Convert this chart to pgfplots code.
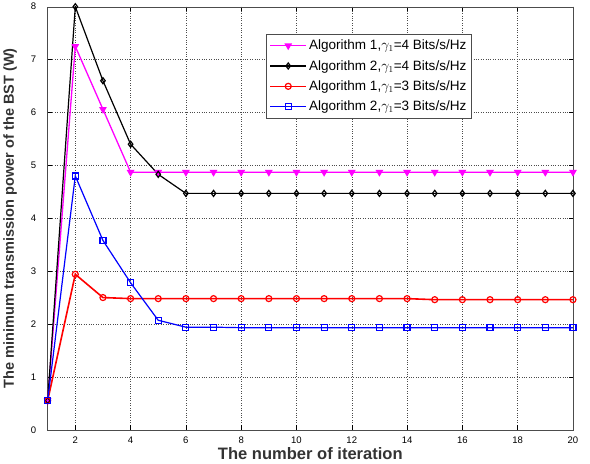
\documentclass[border=0pt]{standalone}
\usepackage{pgfplots}
\pgfplotsset{compat=1.18}
\usepackage{fontspec}
\setmainfont{Liberation Sans}
\definecolor{mag}{RGB}{255,0,255}
\begin{document}
\begin{tikzpicture}
\begin{axis}[scale only axis, width=524pt, height=422pt,
  xmin=1, xmax=20, ymin=0, ymax=8,
  xtick={2,4,...,20}, ytick={0,1,...,8},
  tick align=inside, tick style={black, thin},
  grid=major, major grid style={dotted, black!70},
  xlabel={\bfseries The number of iteration},
  ylabel={\bfseries The minimum transmission power of the BST (W)},
  label style={text=black!80},
  xlabel style={font=\fontsize{16.5}{18}\selectfont, yshift=3pt},
  ylabel style={font=\fontsize{14.5}{16}\selectfont, yshift=7pt},
  ticklabel style={font=\fontsize{9.5}{10}\selectfont},
  /pgf/number format/assume math mode=true,
  xticklabel style={yshift=-4pt}, yticklabel style={xshift=-8pt},
  legend image code/.code={\draw[mark repeat=2, mark phase=2]
    plot coordinates {(0pt,0pt)(18pt,0pt)(36pt,0pt)};},
  legend style={at={(0.416,0.936)}, anchor=north west, draw=black!70,
    font=\fontsize{13.5}{16}\selectfont, row sep=5pt, inner xsep=3pt, inner ysep=4pt},
  legend cell align=left, axis line style={black!70}]
\addplot[mag, line width=1.3pt, mark=triangle*, mark options={rotate=180, scale=1.6}] coordinates {
(1,0.55)(2,7.25)(3,6.06)(4,4.87)(5,4.87)(6,4.87)(7,4.87)(8,4.87)(9,4.87)(10,4.87)
(11,4.87)(12,4.87)(13,4.87)(14,4.87)(15,4.87)(16,4.87)(17,4.87)(18,4.87)(19,4.87)(20,4.87)};
\addlegendentry{Algorithm 1,$\gamma_1$=4 Bits/s/Hz}
\addplot[black, line width=1.2pt, mark=diamond, mark options={scale=1.5}] coordinates {
(1,0.55)(2,8.0)(3,6.6)(4,5.4)(5,4.83)(6,4.47)(7,4.47)(8,4.47)(9,4.47)(10,4.47)
(11,4.47)(12,4.47)(13,4.47)(14,4.47)(15,4.47)(16,4.47)(17,4.47)(18,4.47)(19,4.47)(20,4.47)};
\addlegendentry{Algorithm 2,$\gamma_1$=4 Bits/s/Hz}
\addplot[red, line width=1.6pt, mark=o, mark options={line width=1.2pt, scale=1.5}] coordinates {
(1,0.55)(2,2.94)(3,2.5)(4,2.48)(5,2.48)(6,2.48)(7,2.48)(8,2.48)(9,2.48)(10,2.48)
(11,2.48)(12,2.48)(13,2.48)(14,2.48)(15,2.46)(16,2.46)(17,2.46)(18,2.46)(19,2.46)(20,2.46)};
\addlegendentry{Algorithm 1,$\gamma_1$=3 Bits/s/Hz}
\addplot[blue, line width=1.2pt, mark=square, mark options={line width=1.2pt, scale=1.5}] coordinates {
(1,0.55)(2,4.8)(3,3.58)(4,2.78)(5,2.07)(6,1.94)(7,1.94)(8,1.93)(9,1.93)(10,1.93)
(11,1.93)(12,1.93)(13,1.93)(14,1.93)(15,1.93)(16,1.93)(17,1.93)(18,1.93)(19,1.93)(20,1.93)};
\addlegendentry{Algorithm 2,$\gamma_1$=3 Bits/s/Hz}
\end{axis}
\path (current axis.east) ++(17pt,0);
\end{tikzpicture}
\end{document}
